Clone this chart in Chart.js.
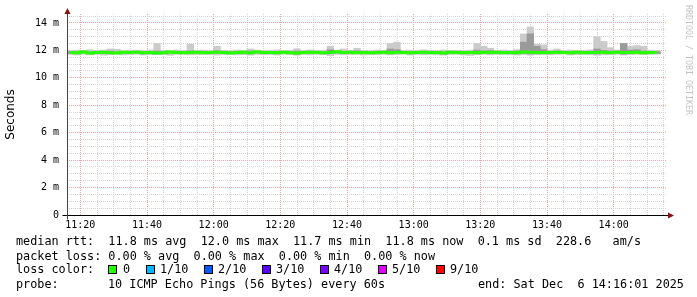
<!DOCTYPE html>
<html>
<head>
<meta charset="utf-8">
<script src="https://cdn.jsdelivr.net/npm/chart.js@4.4.1/dist/chart.umd.min.js"></script>
<style>
body { margin: 0; background: #fff; }
#wrap { position: relative; width: 697px; height: 297px; }
.t { position: absolute; font: 11.8px 'DejaVu Sans Mono', monospace; white-space: pre; line-height: 14px; color: #000; }
.b { position: absolute; width: 7px; height: 7px; border: 1px solid #000; top: 265px; }
</style>
</head>
<body>
<div id="wrap">
<canvas id="smokeChart" width="697" height="297"></canvas>
<div class="t" style="left:16px;top:234px">median rtt:  11.8 ms avg  12.0 ms max  11.7 ms min  11.8 ms now  0.1 ms sd  228.6   am/s</div>
<div class="t" style="left:16px;top:249px">packet loss: 0.00 % avg  0.00 % max  0.00 % min  0.00 % now</div>
<div class="t" style="left:16px;top:262px">loss color:</div>
<div class="b" style="left:108px;background:#26ff00"></div><div class="t" style="left:123px;top:262px">0</div>
<div class="b" style="left:146px;background:#00b8ff"></div><div class="t" style="left:160px;top:262px">1/10</div>
<div class="b" style="left:204px;background:#0059ff"></div><div class="t" style="left:218px;top:262px">2/10</div>
<div class="b" style="left:262px;background:#5e00ff"></div><div class="t" style="left:276px;top:262px">3/10</div>
<div class="b" style="left:320px;background:#7e00ff"></div><div class="t" style="left:334px;top:262px">4/10</div>
<div class="b" style="left:378px;background:#dd00ff"></div><div class="t" style="left:392px;top:262px">5/10</div>
<div class="b" style="left:436px;background:#ff0000"></div><div class="t" style="left:450px;top:262px">9/10</div>
<div class="t" style="left:16px;top:277px">probe:</div>
<div class="t" style="left:108px;top:277px">10 ICMP Echo Pings (56 Bytes) every 60s</div>
<div class="t" style="left:478px;top:277px">end: Sat Dec  6 14:16:01 2025</div>
</div>
<script>
// 2-minute buckets from 11:16 (minute-of-day 676) to 14:16
var startMinute = 676;
var endMinute = 856;
var bucketMinutes = 2;

var yTickLabels = ['0', '2 m', '4 m', '6 m', '8 m', '10 m', '12 m', '14 m'];
var xTickLabels = ['11:20', '11:40', '12:00', '12:20', '12:40', '13:00', '13:20', '13:40', '14:00'];

// median rtt (ms)
var median = [
  11.85, 11.82, 11.88, 11.80, 11.84, 11.86, 11.83, 11.81, 11.87, 11.84,
  11.86, 11.82, 11.85, 11.80, 11.83, 11.88, 11.85, 11.82, 11.84, 11.86,
  11.83, 11.85, 11.87, 11.84, 11.81, 11.85, 11.86, 11.83, 11.88, 11.85,
  11.84, 11.82, 11.86, 11.83, 11.80, 11.85, 11.87, 11.84, 11.82, 11.85,
  11.89, 11.84, 11.86, 11.83, 11.85, 11.82, 11.84, 11.86, 11.83, 11.87,
  11.85, 11.82, 11.84, 11.86, 11.83, 11.85, 11.81, 11.86, 11.84, 11.83,
  11.85, 11.82, 11.87, 11.84, 11.86, 11.83, 11.85, 11.82, 11.88, 11.86,
  11.84, 11.83, 11.85, 11.87, 11.84, 11.82, 11.86, 11.83, 11.85, 11.84,
  11.86, 11.83, 11.87, 11.85, 11.84, 11.86, 11.83, 11.85, 11.84
];

// outer smoke (min / max of pings)
var smokeHi = [
  11.98, 12.02, 11.96, 12.05, 11.99, 12.03, 12.10, 12.08, 11.97, 12.00,
  12.02, 11.98, 12.04, 12.50, 12.01, 11.97, 12.03, 12.00, 12.45, 11.99,
  12.02, 11.98, 12.30, 12.01, 11.97, 12.03, 11.99, 12.10, 12.02, 11.98,
  12.00, 12.04, 11.97, 12.01, 12.12, 11.99, 12.03, 12.00, 11.98, 12.30,
  12.02, 12.10, 11.99, 12.15, 12.01, 11.97, 12.03, 12.00, 12.50, 12.60,
  11.99, 12.02, 11.98, 12.04, 12.00, 11.97, 12.03, 11.99, 12.01, 11.98,
  12.02, 12.50, 12.30, 12.15, 11.99, 12.03, 12.00, 12.05, 13.20, 13.70,
  12.45, 12.40, 12.02, 12.10, 11.99, 12.03, 11.98, 12.01, 12.04, 13.00,
  12.65, 12.20, 12.03, 12.50, 12.30, 12.35, 12.30, 12.02, 11.99
];
var smokeLo = [
  11.70, 11.66, 11.72, 11.68, 11.71, 11.65, 11.69, 11.73, 11.67, 11.70,
  11.72, 11.66, 11.69, 11.71, 11.68, 11.64, 11.70, 11.72, 11.67, 11.69,
  11.71, 11.68, 11.66, 11.70, 11.73, 11.67, 11.69, 11.65, 11.71, 11.68,
  11.70, 11.66, 11.72, 11.69, 11.64, 11.70, 11.67, 11.71, 11.68, 11.62,
  11.70, 11.67, 11.69, 11.72, 11.66, 11.70, 11.68, 11.71, 11.67, 11.69,
  11.72, 11.66, 11.70, 11.68, 11.73, 11.67, 11.65, 11.70, 11.71, 11.66,
  11.63, 11.69, 11.71, 11.67, 11.70, 11.72, 11.68, 11.66, 11.70, 11.65,
  11.68, 11.71, 11.67, 11.70, 11.73, 11.66, 11.69, 11.71, 11.68, 11.64,
  11.67, 11.70, 11.72, 11.66, 11.69, 11.71, 11.68, 11.70, 11.72
];

// inner (darker) smoke
var midHi = [
  11.92, 11.90, 11.94, 11.89, 11.91, 11.93, 11.95, 11.90, 11.93, 11.91,
  11.92, 11.90, 11.93, 11.95, 11.90, 11.94, 11.92, 11.89, 11.96, 11.93,
  11.90, 11.92, 11.97, 11.91, 11.89, 11.92, 11.93, 11.95, 11.94, 11.92,
  11.91, 11.89, 11.93, 11.90, 11.95, 11.92, 11.94, 11.91, 11.89, 12.05,
  11.95, 11.91, 11.93, 11.96, 11.92, 11.89, 11.91, 11.93, 12.10, 12.05,
  11.92, 11.89, 11.91, 11.93, 11.90, 11.92, 11.88, 11.93, 11.91, 11.90,
  11.92, 12.02, 11.94, 11.98, 11.93, 11.90, 11.92, 11.96, 12.60, 13.20,
  12.30, 12.05, 11.92, 11.94, 11.91, 11.89, 11.93, 11.90, 11.92, 12.10,
  12.00, 11.95, 11.94, 12.50, 12.02, 12.05, 11.95, 11.92, 11.91
];
var midLo = [
  11.78, 11.75, 11.80, 11.74, 11.77, 11.79, 11.76, 11.74, 11.80, 11.77,
  11.79, 11.75, 11.78, 11.73, 11.76, 11.80, 11.78, 11.75, 11.77, 11.79,
  11.76, 11.78, 11.80, 11.77, 11.74, 11.78, 11.79, 11.76, 11.81, 11.78,
  11.77, 11.75, 11.79, 11.76, 11.73, 11.78, 11.80, 11.77, 11.75, 11.76,
  11.81, 11.77, 11.79, 11.76, 11.78, 11.75, 11.77, 11.79, 11.76, 11.80,
  11.78, 11.75, 11.77, 11.79, 11.76, 11.78, 11.74, 11.79, 11.77, 11.76,
  11.76, 11.75, 11.80, 11.77, 11.79, 11.76, 11.78, 11.75, 11.76, 11.74,
  11.75, 11.76, 11.78, 11.80, 11.77, 11.75, 11.79, 11.76, 11.78, 11.74,
  11.77, 11.76, 11.80, 11.72, 11.77, 11.79, 11.76, 11.78, 11.77
];

function bucketTime(i) {
  return startMinute + bucketMinutes * i + bucketMinutes / 2;
}

var lineData = median.map(function (v, i) { return { x: bucketTime(i), y: v }; });
var outerData = smokeHi.map(function (v, i) { return { x: bucketTime(i), y: [smokeLo[i], v] }; });
var innerData = midHi.map(function (v, i) { return { x: bucketTime(i), y: [midLo[i], v] }; });

var majorGrid = '#eaa4a4';
var minorGrid = '#d4d4d4';

// axes, arrows and the rrdtool watermark
var framePlugin = {
  id: 'frame',
  afterDraw: function (chart) {
    var ctx = chart.ctx, a = chart.chartArea;
    var x0 = Math.round(a.left) + 0.5, y0 = Math.round(a.bottom) + 0.5;
    ctx.save();
    ctx.strokeStyle = '#000';
    ctx.lineWidth = 1;
    ctx.beginPath();
    ctx.moveTo(x0 - 5, y0); ctx.lineTo(a.right + 2, y0);
    ctx.stroke();
    ctx.strokeStyle = '#444';
    ctx.beginPath();
    ctx.moveTo(x0, y0 + 4); ctx.lineTo(x0, a.top - 1);
    ctx.stroke();
    ctx.fillStyle = '#8b1010';
    ctx.beginPath();
    ctx.moveTo(x0, a.top - 6); ctx.lineTo(x0 - 3, a.top); ctx.lineTo(x0 + 3, a.top);
    ctx.fill();
    ctx.beginPath();
    ctx.moveTo(a.right + 7, y0); ctx.lineTo(a.right + 1, y0 - 3); ctx.lineTo(a.right + 1, y0 + 3);
    ctx.fill();
    ctx.translate(688, 5);
    ctx.rotate(Math.PI / 2);
    ctx.fillStyle = '#c4c4c4';
    ctx.font = '8.3px "DejaVu Sans Mono"';
    ctx.textBaseline = 'middle';
    ctx.fillText('RRDTOOL / TOBI OETIKER', 0, 0);
    ctx.restore();
  }
};

var ctx = document.getElementById('smokeChart').getContext('2d');

var smokeChart = new Chart(ctx, {
  type: 'bar',
  data: {
    datasets: [
      {
        type: 'line',
        label: 'median',
        data: lineData,
        borderColor: '#26ff00',
        borderWidth: 3,
        pointRadius: 0,
        stepped: 'middle',
        fill: false
      },
      {
        label: 'inner smoke',
        data: innerData,
        backgroundColor: '#9a9a9a',
        barPercentage: 1,
        categoryPercentage: 1,
        grouped: false
      },
      {
        label: 'outer smoke',
        data: outerData,
        backgroundColor: '#cbcbcb',
        barPercentage: 1,
        categoryPercentage: 1,
        grouped: false
      }
    ]
  },
  options: {
    responsive: false,
    animation: false,
    layout: { padding: { left: 0, right: 30, top: 13, bottom: 0 } },
    plugins: {
      legend: { display: false },
      tooltip: { enabled: false }
    },
    scales: {
      x: {
        type: 'linear',
        min: startMinute,
        max: endMinute,
        offset: false,
        afterFit: function (scale) { scale.height = 82; },
        // grid every 5 minutes on the clock, starting at 11:20
        afterBuildTicks: function (scale) {
          var ticks = [];
          for (var t = 680; t < endMinute; t += 5) ticks.push({ value: t });
          scale.ticks = ticks;
        },
        border: { display: false, dash: [1, 1] },
        grid: {
          offset: false,
          drawTicks: false,
          color: function (c) { return c.index % 4 === 0 ? majorGrid : minorGrid; }
        },
        ticks: {
          autoSkip: false,
          maxRotation: 0,
          padding: 4,
          color: '#000',
          font: { family: 'DejaVu Sans Mono', size: 10 },
          callback: function (v, i) { return i % 4 === 0 ? xTickLabels[i / 4] : ''; }
        }
      },
      y: {
        min: 0,
        max: 14.65,
        afterFit: function (scale) { scale.width = 67; },
        border: { display: false, dash: [1, 1] },
        grid: {
          drawTicks: false,
          color: function (c) { return c.index % 4 === 0 ? majorGrid : minorGrid; }
        },
        ticks: {
          stepSize: 0.5,
          includeBounds: false,
          autoSkip: false,
          padding: 8,
          color: '#000',
          font: { family: 'DejaVu Sans Mono', size: 10 },
          callback: function (v, i) { return i % 4 === 0 ? yTickLabels[i / 4] : ''; }
        },
        title: {
          display: true,
          text: 'Seconds',
          color: '#000',
          font: { family: 'DejaVu Sans', size: 12 },
          padding: { top: 4, bottom: 0 }
        }
      }
    }
  },
  plugins: [framePlugin]
});
</script>
</body>
</html>
